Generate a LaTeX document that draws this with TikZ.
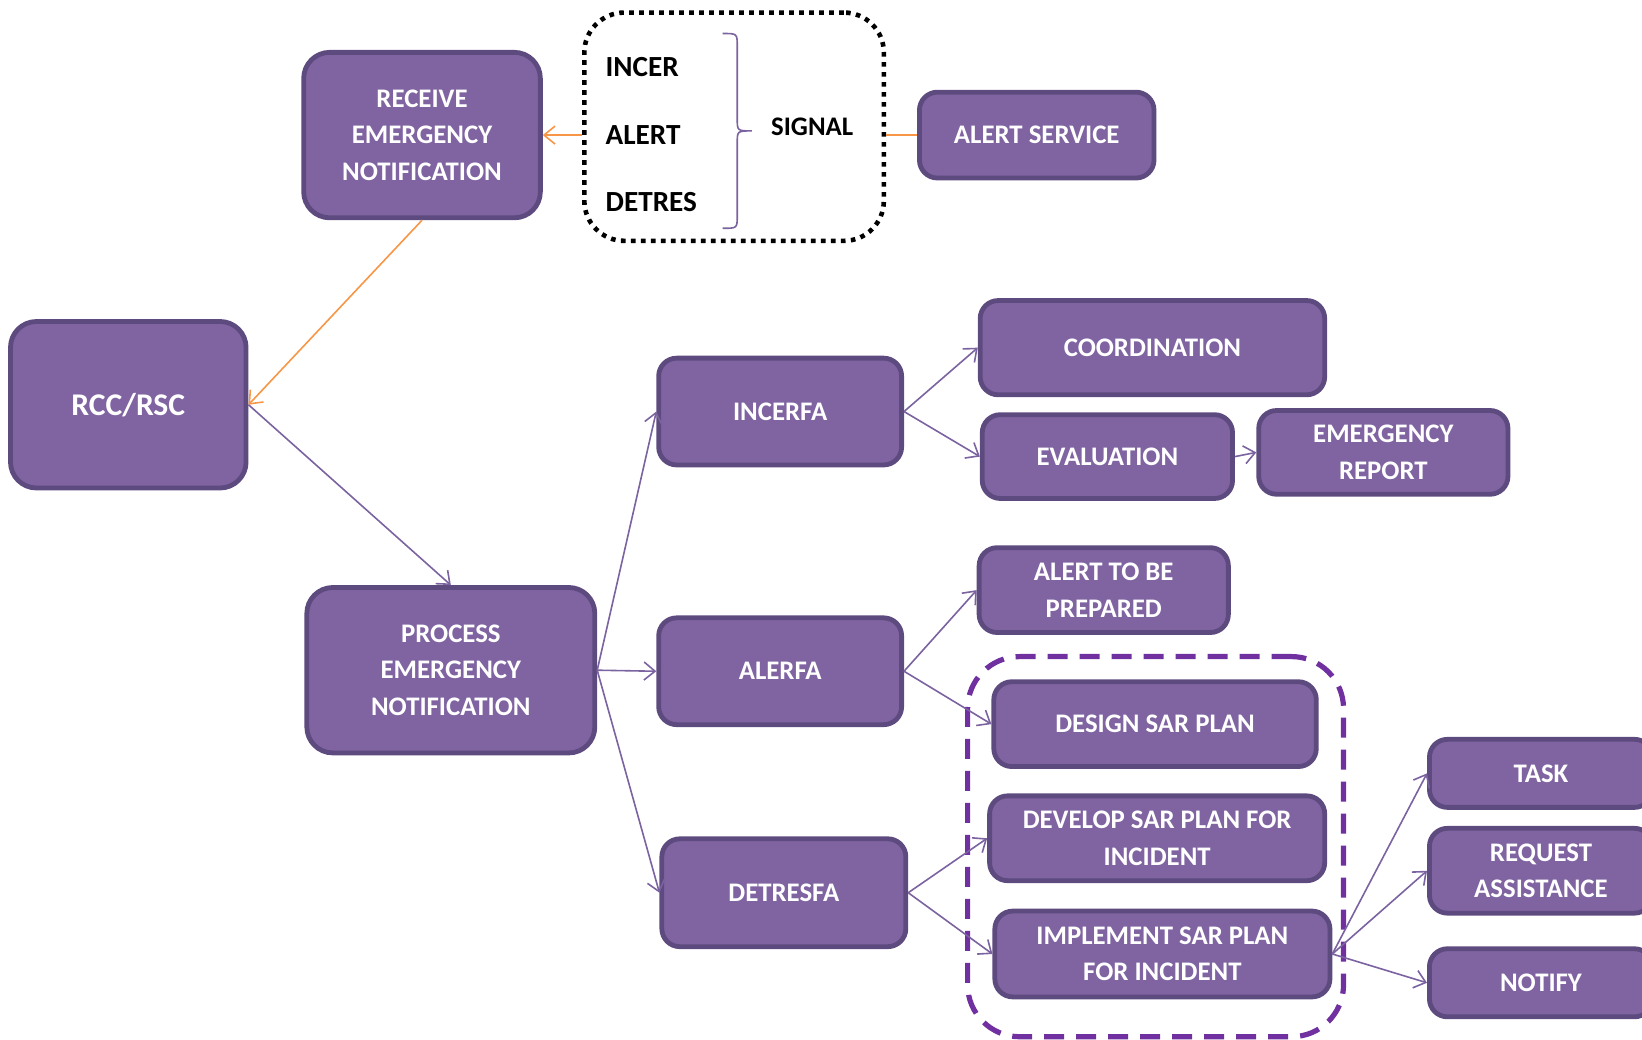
\documentclass[tikz,border=0pt]{standalone}
\usepackage{fontspec}
\setmainfont{Carlito}
\usetikzlibrary{arrows.meta}
\definecolor{boxfill}{HTML}{8064A2}
\definecolor{boxline}{HTML}{5D4A7F}
\definecolor{arrowc}{HTML}{7B62A0}
\definecolor{orangec}{HTML}{F79646}
\definecolor{dashc}{HTML}{7030A0}
\tikzset{
 box/.style={draw=boxline, fill=boxfill, line width=2.4pt, rounded corners=9pt, inner sep=0pt, align=center, text=white, font=\fontsize{13.4}{18.3}\selectfont\bfseries},
 bigbox/.style={box, rounded corners=13pt},
 conn/.style={draw=arrowc, line width=0.8pt, -{Straight Barb[length=5.5pt,width=9pt]}},
 oconn/.style={draw=orangec, line width=0.8pt, -{Straight Barb[length=5.5pt,width=9pt]}},
 oline/.style={draw=orangec, line width=0.8pt},
 sigtext/.style={anchor=west, inner sep=0pt, font=\fontsize{14.6}{17}\selectfont\bfseries},
 dotbox/.style={draw=black, line width=2.3pt, dash pattern=on 2.3pt off 2.7pt, rounded corners=20pt, inner sep=0pt},
 dashbox/.style={draw=dashc, line width=2.6pt, dash pattern=on 10pt off 6pt, rounded corners=26pt, inner sep=0pt},
}
% \bx{style}{name}{x1}{y1}{x2}{y2}{text}
\newcommand\bx[7]{\node[#1, minimum width={(#5-#3)*0.5236pt}, minimum height={(#6-#4)*0.5236pt}] (#2) at ({(#3+#5)/2},{(#4+#6)/2}) {#7};}
\begin{document}
\begin{tikzpicture}[x=0.5236pt,y=-0.5236pt]
\useasboundingbox (0,0) rectangle (1568,992.2);
\clip (0,0) rectangle (1568,992.2);
% groups
\bx{dotbox}{sig}{558}{12}{844}{230}{}
\bx{dashbox}{grp}{924}{627}{1283}{990}{}
% boxes
\bx{bigbox}{recv}{290}{50}{516}{208}{RECEIVE\\EMERGENCY\\NOTIFICATION}
\bx{box}{alsvc}{878}{88}{1102}{170}{ALERT SERVICE}
\bx{bigbox}{rcc}{10}{307}{235}{466}{\fontsize{15.8}{18}\selectfont RCC/RSC}
\bx{bigbox}{proc}{293}{561}{568}{719}{PROCESS\\EMERGENCY\\NOTIFICATION}
\bx{box}{incerfa}{629}{342}{861}{444}{INCERFA}
\bx{box}{alerfa}{629}{590}{861}{692}{ALERFA}
\bx{box}{detresfa}{632}{801}{865}{904}{DETRESFA}
\bx{box}{coord}{936}{287}{1265}{377}{COORDINATION}
\bx{box}{eval}{938}{396}{1177}{476}{EVALUATION}
\bx{box}{erep}{1202}{392}{1440}{472}{EMERGENCY\\REPORT}
\bx{box}{atbp}{935}{523}{1173}{604}{ALERT TO BE\\PREPARED}
\bx{box}{design}{949}{651}{1257}{732}{DESIGN SAR PLAN}
\bx{box}{develop}{945}{760}{1265}{841}{DEVELOP SAR PLAN FOR\\INCIDENT}
\bx{box}{impl}{950}{870}{1270}{952}{IMPLEMENT SAR PLAN\\FOR INCIDENT}
\bx{box}{task}{1365}{706}{1578}{771}{TASK}
\bx{box}{req}{1365}{791}{1578}{872}{REQUEST\\ASSISTANCE}
\bx{box}{notify}{1365}{906}{1578}{971}{NOTIFY}
% signal texts
\node[sigtext] (incer) at (578,64) {INCER};
\node[sigtext] (alert) at (578,129) {ALERT};
\node[sigtext] (detres) at (578,193) {DETRES};
\node[sigtext, font=\fontsize{13.4}{16}\selectfont\bfseries] (signal) at (736,121) {SIGNAL};
\coordinate (bt) at (690,32);
\coordinate (bb) at (690,218);
\draw[arrowc, line width=0.8pt] (bt) .. controls (704,32) .. (704,44) -- (704,113) .. controls (704,125) .. (718,125) .. controls (704,125) .. (704,137) -- (704,206) .. controls (704,218) .. (bb);
% connectors
\draw[oline] (alsvc.west) -- (sig.east |- alsvc.west);
\draw[oconn] (sig.west |- recv.east) -- (recv.east);
\draw[oconn] (recv.south) -- (rcc.east);
\draw[conn] (rcc.east) -- (proc.north);
\draw[conn] (proc.east) -- (incerfa.west);
\draw[conn] (proc.east) -- (alerfa.west);
\draw[conn] (proc.east) -- (detresfa.west);
\draw[conn] (incerfa.east) -- (coord.west);
\draw[conn] (incerfa.east) -- (eval.west);
\draw[conn] (eval.east) -- (erep.west);
\draw[conn] (alerfa.east) -- (atbp.west);
\draw[conn] (alerfa.east) -- (design.west);
\draw[conn] (detresfa.east) -- (develop.west);
\draw[conn] (detresfa.east) -- (impl.west);
\draw[conn] (impl.east) -- (task.west);
\draw[conn] (impl.east) -- (req.west);
\draw[conn] (impl.east) -- (notify.west);
\end{tikzpicture}
\end{document}
